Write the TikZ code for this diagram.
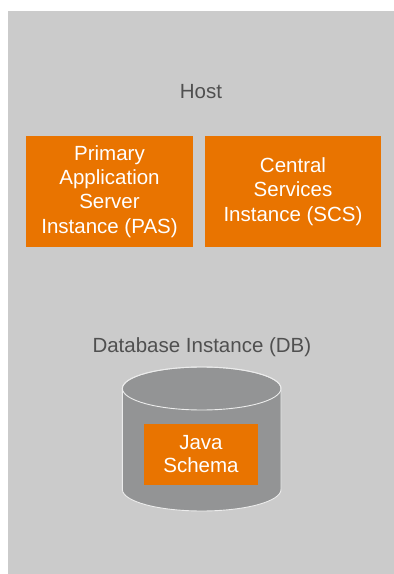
\documentclass[tikz,border=0pt]{standalone}
\usepackage{fontspec}
\setmainfont{Liberation Sans}
\definecolor{hostgray}{RGB}{203,203,203}
\definecolor{sapor}{RGB}{233,116,0}
\definecolor{dbgray}{RGB}{147,148,149}
\definecolor{txtgray}{RGB}{80,80,80}
\definecolor{rimwhite}{RGB}{236,236,236}
\tikzset{
  instbox/.style={fill=sapor, draw=none, inner sep=0pt, align=center, text=white,
    font=\fontsize{20.5}{24.3}\selectfont},
  plainlabel/.style={inner sep=0pt, anchor=base, text=txtgray, font=\fontsize{20.5}{24.3}\selectfont},
}
\begin{document}
\begin{tikzpicture}[x=1pt,y=1pt]
\useasboundingbox (0,0) rectangle (394,574);
\fill[white] (0,0) rectangle (394,574);
\fill[hostgray] (8,0) rectangle (394,563);

\node[plainlabel] (host) at (201,475.7) {Host};

\node[instbox, minimum width=167pt, minimum height=111pt] (pas) at (109.5,382.5)
  {Primary\\Application\\Server\\Instance (PAS)};
\node[instbox, minimum width=176pt, minimum height=111pt] (scs) at (293,382.5)
  {Central\\Services\\Instance (SCS)};

\node[plainlabel] (dblabel) at (201.9,221.7) {Database Instance (DB)};

% cylinder
\filldraw[fill=dbgray, draw=rimwhite, line width=0.9pt]
  (122.4,185.5) -- (122.4,84.5)
  arc[start angle=180, end angle=360, x radius=79.3, y radius=21.5]
  -- (281,185.5)
  arc[start angle=0, end angle=180, x radius=79.3, y radius=21.5] -- cycle;
\draw[rimwhite, line width=0.9pt] (201.7,185.5) ellipse [x radius=79.3, y radius=21.5];

\node[instbox, minimum width=114pt, minimum height=61pt, font=\fontsize{20.5}{23}\selectfont] (java) at (201,119.5)
  {Java\\Schema};
\end{tikzpicture}
\end{document}
